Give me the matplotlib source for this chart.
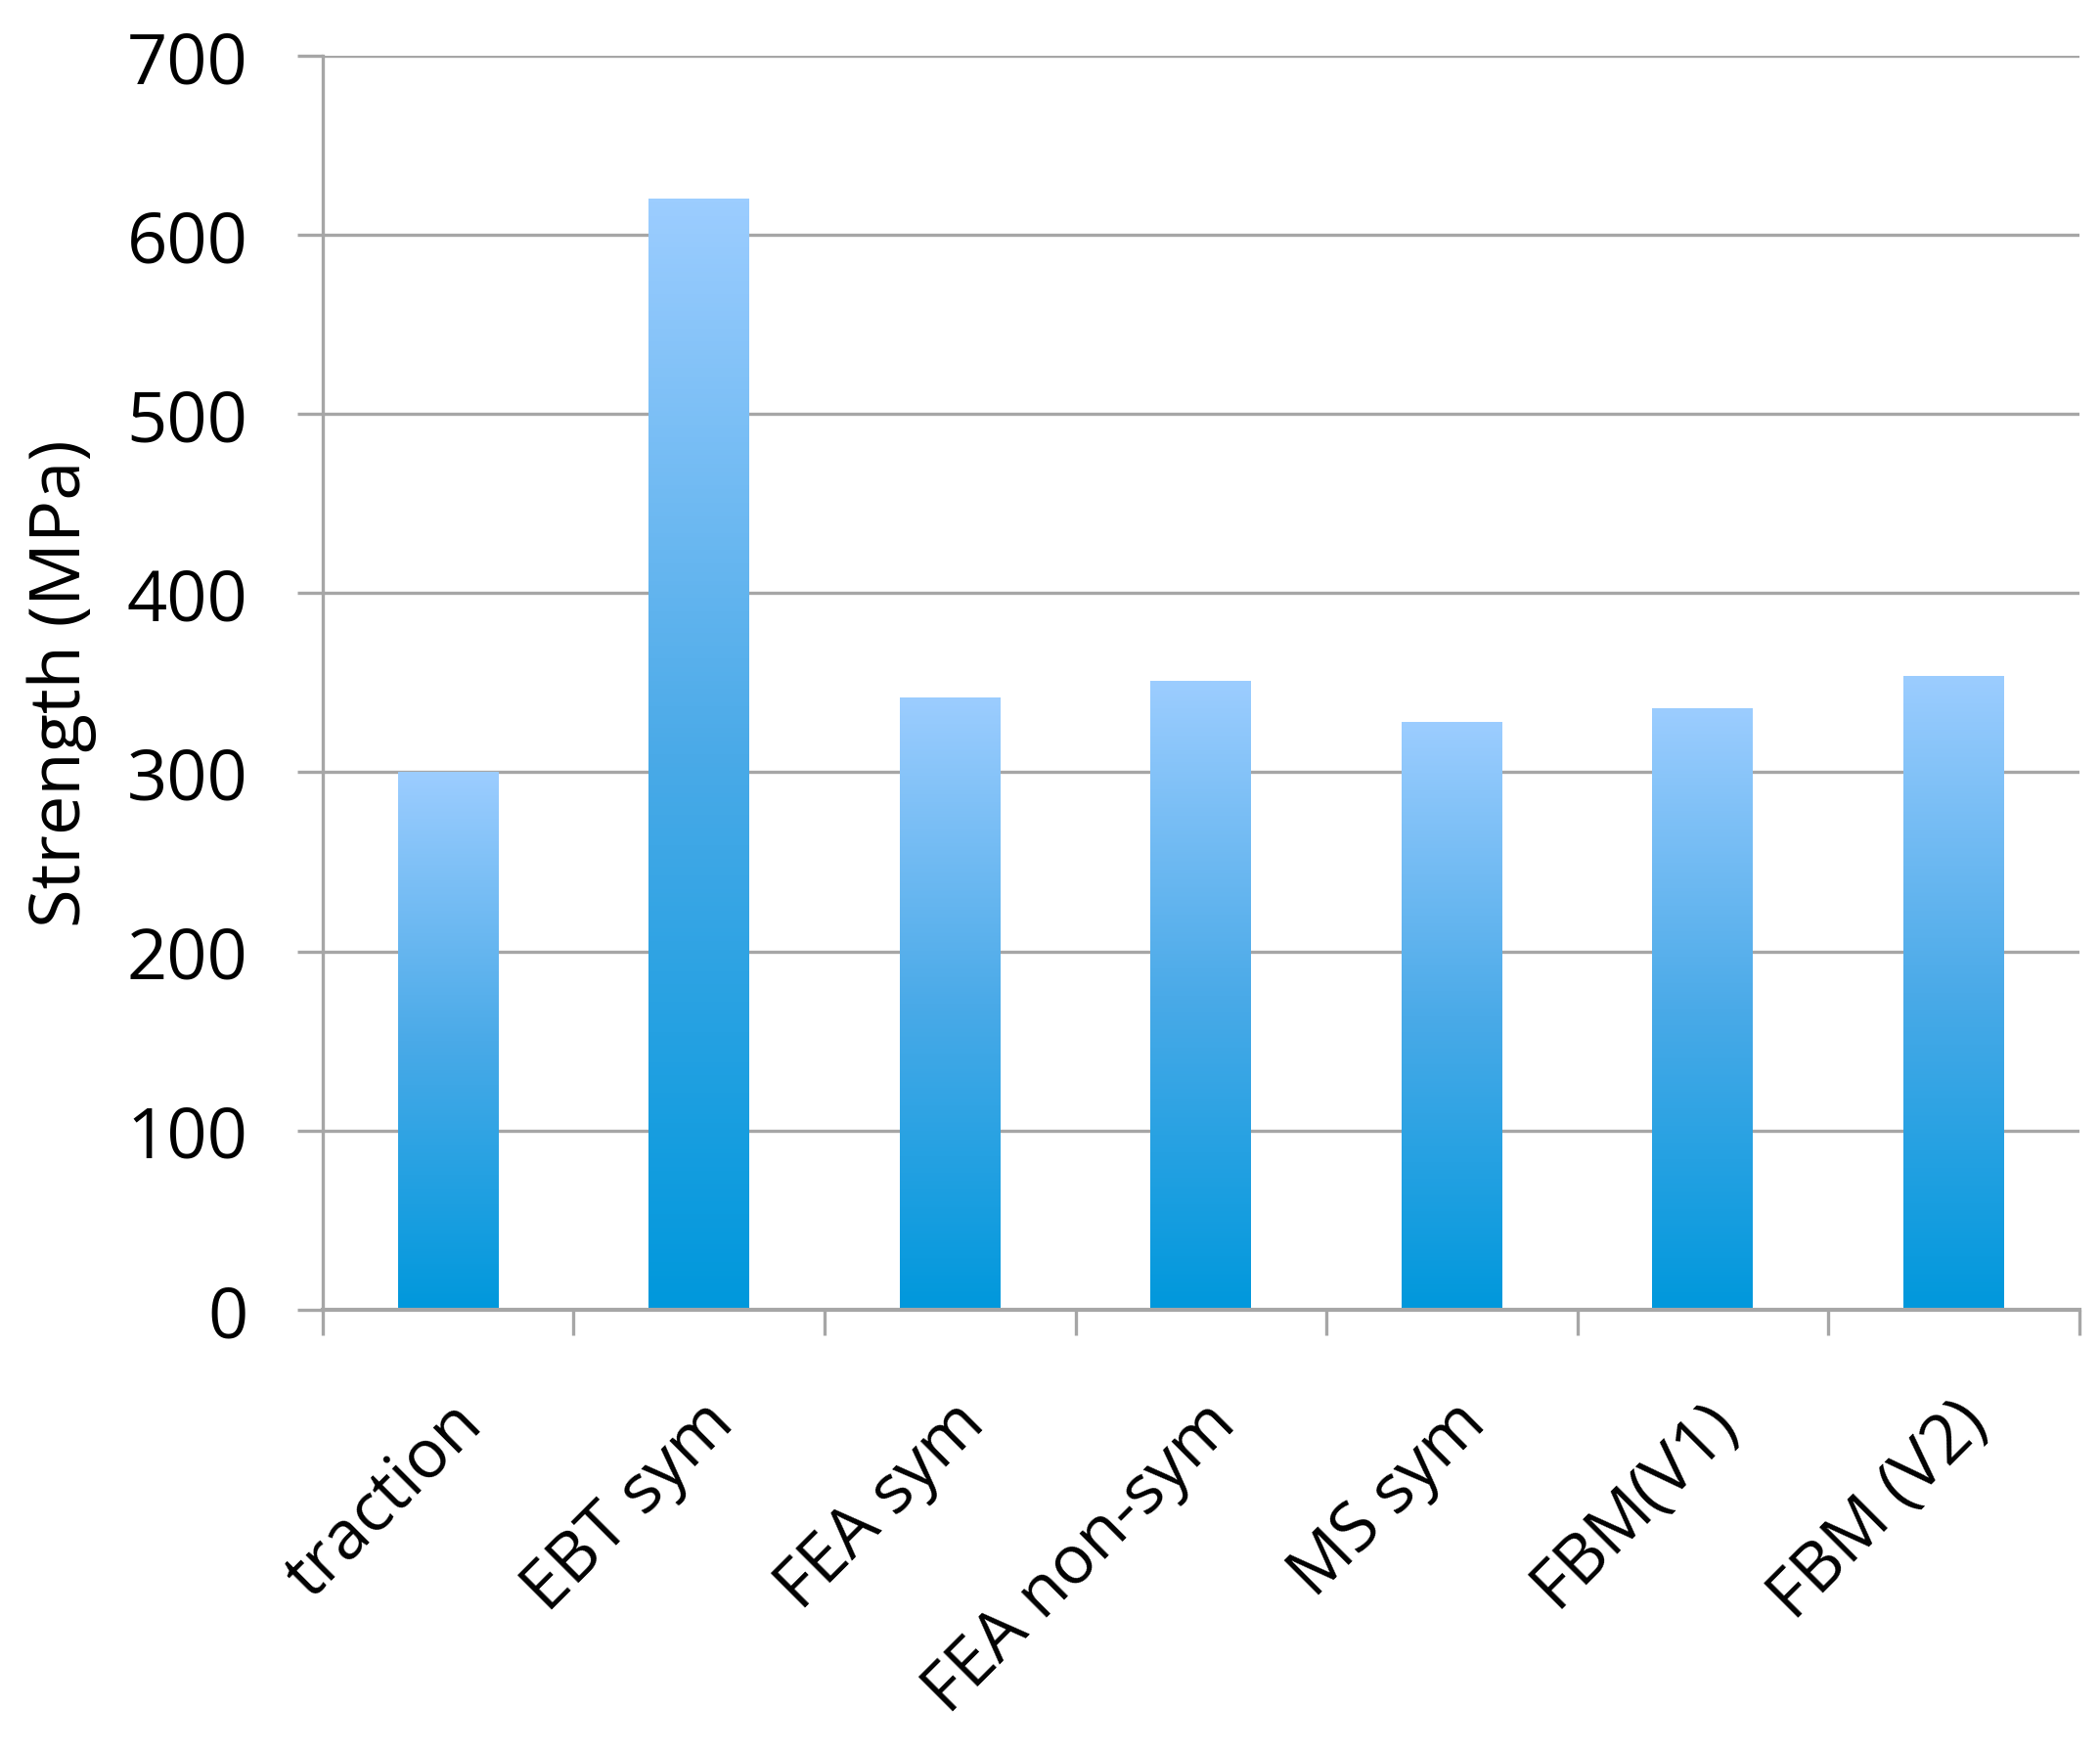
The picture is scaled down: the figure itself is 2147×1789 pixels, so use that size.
import numpy as np
import matplotlib
matplotlib.use('Agg')
import matplotlib.pyplot as plt
from matplotlib.colors import LinearSegmentedColormap

categories = ['traction', 'EBT sym', 'FEA sym', 'FEA non-sym', 'MS sym', 'FBM(V1)', 'FBM (V2)']
strength = [300, 620, 342, 351, 328, 336, 354]
y_ticks = [0, 100, 200, 300, 400, 500, 600, 700]

plt.rcParams['font.family'] = ['Open Sans', 'DejaVu Sans']

fig = plt.figure(figsize=(21.47, 17.9), dpi=100)
ax = fig.add_axes([0.1537, 0.2515, 0.8363, 0.7161])

grid_col = '#a6a6a6'
cmap = LinearSegmentedColormap.from_list('bar', ['#0098dc', '#4aaae8', '#9ccdff'])
grad = np.linspace(0, 1, 256).reshape(-1, 1)

x = np.arange(len(categories))
bars = ax.bar(x, strength, width=0.4, color='none', zorder=3)
# fill each bar with its own vertical gradient
for b in bars:
    x0, w, h = b.get_x(), b.get_width(), b.get_height()
    im = ax.imshow(grad, cmap=cmap, aspect='auto', origin='lower',
                   extent=[x0, x0 + w, 0, h], zorder=3)
    im.set_clip_path(b)

ax.set_xlim(-0.5, len(categories) - 0.5)
ax.set_ylim(0, 700)
ax.set_yticks(y_ticks)
ax.yaxis.grid(True, color=grid_col, linewidth=2.4)
ax.set_axisbelow(True)

for s in ['top', 'right']:
    ax.spines[s].set_visible(False)
ax.spines['left'].set_color(grid_col)
ax.spines['left'].set_linewidth(2.4)
ax.spines['bottom'].set_color(grid_col)
ax.spines['bottom'].set_linewidth(3)
ax.spines['bottom'].set_zorder(4)

ax.tick_params(axis='y', length=19, width=2.4, color=grid_col, labelsize=52, pad=36)
ax.set_xticks(x)
ax.set_xticklabels(categories, rotation=45, ha='right', rotation_mode='anchor', fontsize=50)
ax.tick_params(axis='x', length=0, pad=58)
ax.set_xticks(np.arange(-0.5, len(categories)), minor=True)
ax.tick_params(axis='x', which='minor', length=19, width=2.4, color=grid_col)

ax.set_ylabel('Strength (MPa)', fontsize=52, labelpad=22)

fig.savefig('out.png', dpi=100, facecolor='white')
